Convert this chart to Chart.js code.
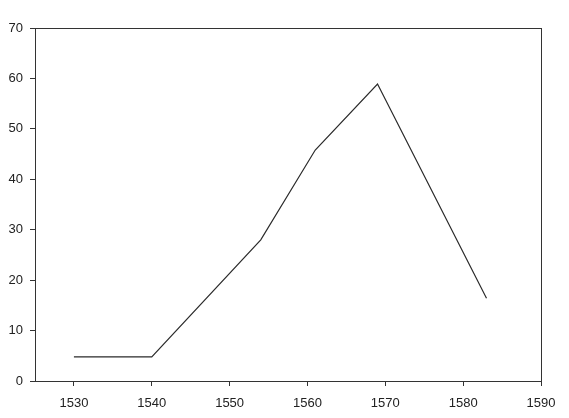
<!DOCTYPE html>
<html>
<head>
<meta charset="utf-8">
<script src="https://cdn.jsdelivr.net/npm/chart.js@4/dist/chart.umd.min.js"></script>
<style>
html,body{margin:0;padding:0;background:#fff;}
#wrap{width:569px;height:418px;}
</style>
</head>
<body>
<div id="wrap"><canvas id="c" width="569" height="418"></canvas></div>
<script>
const years = [1530, 1540, 1554, 1561, 1569, 1583];
const values = [4.8, 4.8, 28, 45.8, 58.9, 16.4];
const xTickLabels = [1530, 1540, 1550, 1560, 1570, 1580, 1590];
const yTickLabels = [0, 10, 20, 30, 40, 50, 60, 70];

const frame = {
  id: 'frame',
  afterDraw(chart) {
    const a = chart.chartArea, ctx = chart.ctx;
    ctx.save();
    ctx.strokeStyle = '#333';
    ctx.lineWidth = 1;
    ctx.strokeRect(Math.round(a.left) + 0.5, Math.round(a.top) + 0.5,
      Math.round(a.right - a.left), Math.round(a.bottom - a.top));
    ctx.restore();
  }
};

new Chart(document.getElementById('c'), {
  type: 'line',
  data: {
    datasets: [{
      data: years.map((x, i) => ({x, y: values[i]})),
      borderColor: '#2a2a2a',
      borderWidth: 1.2,
      pointRadius: 0,
      tension: 0,
      fill: false
    }]
  },
  options: {
    responsive: false,
    animation: false,
    devicePixelRatio: 1,
    layout: {padding: {top: 28, right: 28, left: 0, bottom: 0}},
    plugins: {legend: {display: false}, tooltip: {enabled: false}},
    scales: {
      x: {
        type: 'linear',
        min: 1525, max: 1590,
        afterBuildTicks(s) { s.ticks = xTickLabels.map(v => ({value: v})); },
        afterFit(s) { s.height = 37; },
        grid: {drawOnChartArea: false, drawTicks: true, tickLength: 5, color: '#333'},
        border: {display: true, color: '#333', width: 1},
        ticks: {color: '#222', font: {family: 'Liberation Sans', size: 13}, padding: 10, maxRotation: 0, autoSkip: false,
          callback: v => String(v)}
      },
      y: {
        min: 0, max: 70,
        afterBuildTicks(s) { s.ticks = yTickLabels.map(v => ({value: v})); },
        afterFit(s) { s.width = 35; },
        grid: {drawOnChartArea: false, drawTicks: true, tickLength: 5, color: '#333'},
        border: {display: true, color: '#333', width: 1},
        ticks: {color: '#222', font: {family: 'Liberation Sans', size: 13}, padding: 7, autoSkip: false}
      }
    }
  },
  plugins: [frame]
});
</script>
</body>
</html>
